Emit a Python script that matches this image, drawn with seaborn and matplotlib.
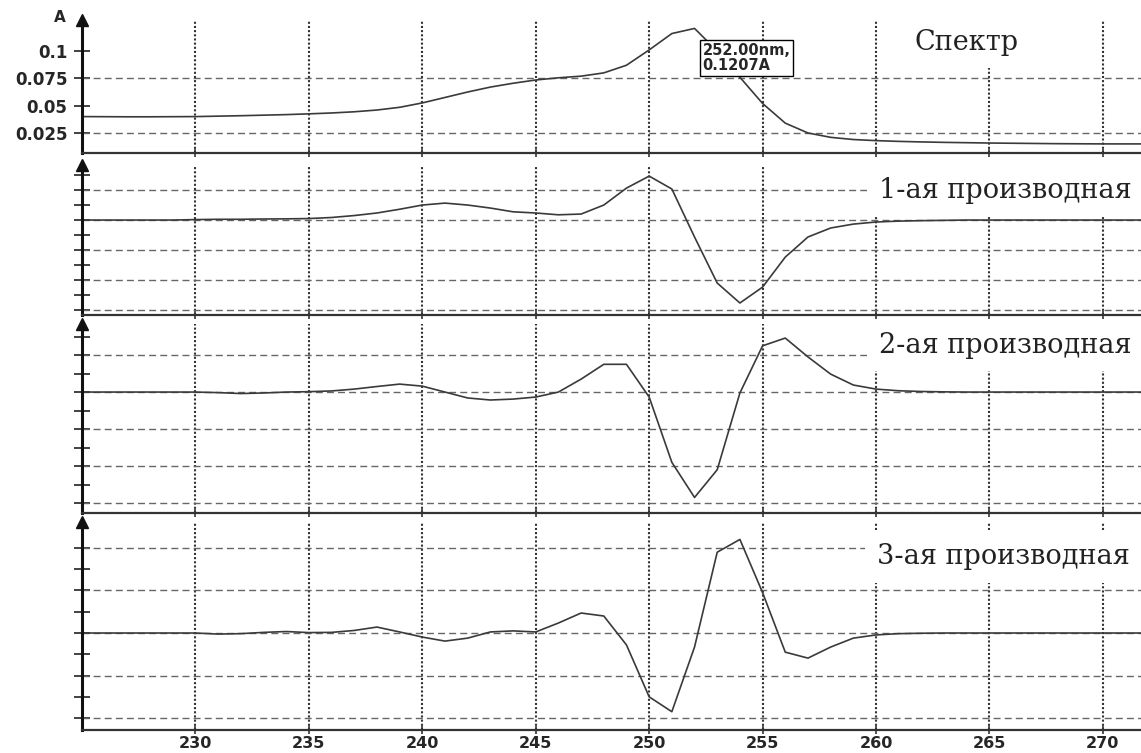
import numpy as np
import pandas as pd
import matplotlib.pyplot as plt
import seaborn as sns

# Data (1 nm step)
wavelength = list(range(225, 273))

spectrum = [0.0400, 0.0399, 0.0398, 0.0398, 0.0399, 0.0400, 0.0404, 0.0408, 0.0413, 0.0418,
            0.0425, 0.0433, 0.0444, 0.0460, 0.0485, 0.0525, 0.0575, 0.0625, 0.0670, 0.0705,
            0.0735, 0.0755, 0.0770, 0.0800, 0.0870, 0.1010, 0.1160, 0.1207, 0.1000, 0.0760,
            0.0520, 0.0340, 0.0250, 0.0210, 0.0190, 0.0180, 0.0173, 0.0168, 0.0164, 0.0161,
            0.0158, 0.0156, 0.0154, 0.0152, 0.0151, 0.0150, 0.0150, 0.0150]

deriv1 = [0, 0, 0, 0, 0, 0.03, 0.05, 0.05, 0.07, 0.08,
          0.1, 0.17, 0.3, 0.47, 0.72, 1.0, 1.13, 1.0, 0.8, 0.55,
          0.47, 0.35, 0.4, 1.0, 2.13, 2.93, 2.07, -1.13, -4.2, -5.53,
          -4.47, -2.47, -1.13, -0.53, -0.27, -0.13, -0.07, -0.04, -0.02, 0,
          0, 0, 0, 0, 0, 0, 0, 0]

deriv2 = [0, 0, 0, 0, 0, 0, -0.03, -0.08, -0.05, 0,
          0.02, 0.06, 0.16, 0.3, 0.43, 0.32, 0, -0.32, -0.43, -0.38,
          -0.27, 0.0, 0.7, 1.5, 1.5, -0.27, -3.8, -5.7, -4.2, -0.05,
          2.5, 2.92, 1.9, 0.97, 0.38, 0.16, 0.07, 0.03, 0.01, 0,
          0, 0, 0, 0, 0, 0, 0, 0]

deriv3 = [0, 0, 0, 0, 0, 0, -0.05, -0.03, 0.03, 0.07,
          0.02, 0.03, 0.12, 0.28, 0.05, -0.19, -0.38, -0.24, 0.05, 0.1,
          0.05, 0.47, 0.94, 0.8, -0.56, -3.0, -3.7, -0.66, 3.8, 4.4,
          1.9, -0.9, -1.18, -0.66, -0.24, -0.09, -0.03, -0.01, 0, 0,
          0, 0, 0, 0, 0, 0, 0, 0]

panel_names = ["Спектр", "1-ая производная", "2-ая производная", "3-ая производная"]
x_ticks = [230, 235, 240, 245, 250, 255, 260, 265, 270]
spectrum_ticks = [0.025, 0.05, 0.075, 0.1]
spectrum_tick_labels = ["0.025", "0.05", "0.075", "0.1"]
spectrum_grid = [0.025, 0.075]
peak_label = "252.00nm,\n0.1207A"

sns.set_style("ticks")
plt.rcParams["font.family"] = ["DejaVu Sans"]

W, H = 1141, 753
fig = plt.figure(figsize=(W / 100, H / 100), dpi=100)


def add_panel(top, bottom):
    return fig.add_axes([82 / W, 1 - bottom / H, (W - 82) / W, (bottom - top) / H])


def style_panel(ax, ylim, yticks, grid_levels, bottom_labels=False):
    ax.set_xlim(225, 271.68)
    ax.set_ylim(*ylim)
    ax.set_xticks(x_ticks)
    ax.set_yticks(yticks)
    ax.set_axisbelow(True)
    ax.grid(axis="x", linestyle=(0, (1, 1)), color="#333333", linewidth=1.5)
    for level in grid_levels:
        ax.axhline(level, linestyle=(0, (5, 3)), color="#666666", linewidth=1.0, zorder=0.6)
    for side in ["top", "right"]:
        ax.spines[side].set_visible(False)
    ax.spines["left"].set_linewidth(2.2)
    ax.spines["left"].set_color("#111111")
    ax.spines["bottom"].set_linewidth(1.6)
    ax.spines["bottom"].set_color("#333333")
    ax.tick_params(axis="y", direction="inout", length=11, width=1.2, color="#222222",
                   labelleft=False)
    ax.tick_params(axis="x", direction="inout", length=6, width=1.2, color="#333333",
                   labelbottom=bottom_labels, labelsize=11.5, pad=1.5)
    for lab in ax.get_xticklabels():
        lab.set_fontweight("bold")
    ax.plot([0], [1], marker="^", markersize=8, color="#111111",
            transform=ax.transAxes, clip_on=False, zorder=5)
    ax.set_xlabel("")
    ax.set_ylabel("")


def panel_label(ax, x, y, text):
    ax.text(x, y, text, ha="center", va="center", fontsize=19.5, color="#222222",
            family=["DejaVu Serif"], zorder=1,
            bbox=dict(boxstyle="square,pad=0.45", facecolor="white", edgecolor="none"))


line_kw = dict(color="#3a3a3a", linewidth=1.2, zorder=2)

# Spectrum
ax1 = add_panel(20, 153)
sns.lineplot(x=wavelength, y=spectrum, ax=ax1, **line_kw)
style_panel(ax1, (0.00667, 0.1284), spectrum_ticks, spectrum_grid)
ax1.tick_params(axis="y", labelleft=True, labelsize=12, pad=5)
ax1.set_yticklabels(spectrum_tick_labels, fontweight="bold")
panel_label(ax1, 264.0, 0.1082, panel_names[0])
ax1.text(252.35, 0.1075, peak_label, ha="left", va="top", fontsize=10.5, fontweight="bold",
         linespacing=1.0, zorder=4,
         bbox=dict(boxstyle="square,pad=0.2", facecolor="white", edgecolor="black", linewidth=1))
fig.text(60 / W, 1 - 17 / H, "A", ha="center", va="center", fontsize=11, fontweight="bold")

# 1st derivative
ax2 = add_panel(165, 315)
sns.lineplot(x=wavelength, y=deriv1, ax=ax2, **line_kw)
style_panel(ax2, (-6.33, 3.67), list(range(-6, 4)), [-6, -4, -2, 0, 2])
panel_label(ax2, 265.7, 2.0, panel_names[1])

# 2nd derivative
ax3 = add_panel(324, 513)
sns.lineplot(x=wavelength, y=deriv2, ax=ax3, **line_kw)
style_panel(ax3, (-6.54, 3.68), list(range(-6, 4)), [-6, -4, -2, 0, 2])
panel_label(ax3, 265.7, 2.54, panel_names[2])

# 3rd derivative
ax4 = add_panel(522, 730)
sns.lineplot(x=wavelength, y=deriv3, ax=ax4, **line_kw)
style_panel(ax4, (-4.56, 5.22), list(range(-4, 5)), [-4, -2, 0, 2, 4], bottom_labels=True)
panel_label(ax4, 265.6, 3.58, panel_names[3])

fig.savefig("out.png", dpi=100)
